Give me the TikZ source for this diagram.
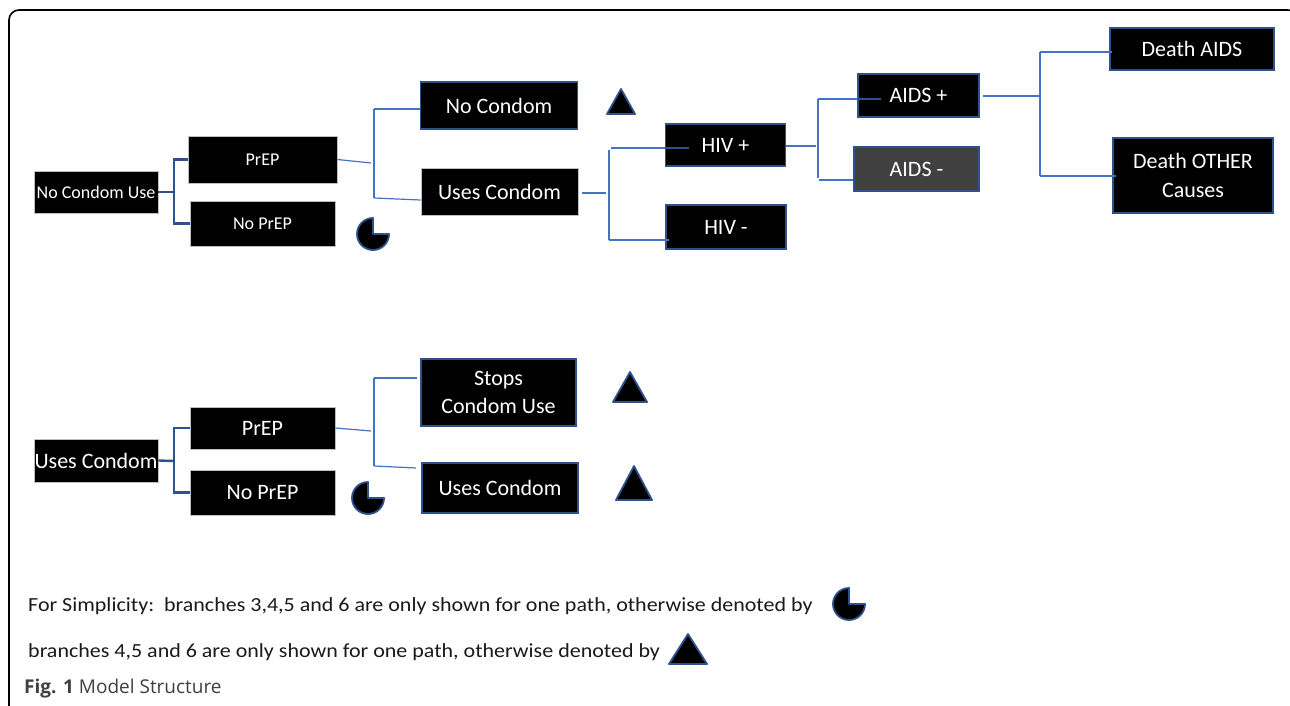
\documentclass[tikz,border=0pt]{standalone}
\usepackage{fontspec}
\setmainfont{Carlito}
\newfontfamily\notefont[FakeStretch=1.1]{Carlito}
\newfontfamily\capfont{Open Sans}
\usetikzlibrary{calc}
\definecolor{dkblue}{HTML}{2F528F}
\definecolor{lnblue}{HTML}{4472C4}
\definecolor{gbord}{HTML}{BFBFBF}
\definecolor{aidsgrey}{HTML}{404040}
\definecolor{txtdark}{HTML}{1A1A1A}
\begin{document}
\begin{tikzpicture}[x=1pt,y=-1pt,
  box/.style={fill=black,text=white,inner sep=0pt,align=center},
  bbox/.style={box,draw=dkblue,line width=1.8pt},
  gbox/.style={box,draw=gbord,line width=0.8pt},
  fs/.style={font=\fontsize{18}{22}\selectfont},
  fl/.style={font=\fontsize{22}{28.5}\selectfont},
  con/.style={draw=lnblue,line width=1.2pt},
  brk/.style={draw=dkblue,line width=2.4pt},
  symb/.style={fill=black,draw=dkblue,line width=1.8pt,line join=round},
  note/.style={anchor=west,inner sep=0pt,text=txtdark,font=\notefont\fontsize{20}{24}\selectfont}]
\clip (0,0) rectangle (1290,706);
\fill[white] (0,0) rectangle (1290,706);
% frame
\draw[black,line width=1.6pt,rounded corners=10pt] (9,760) -- (9,10) -- (1298,10) -- (1298,760);

% ---- top tree ----
\node[gbox,fs,minimum width=124pt,minimum height=42pt] (root1) at (96,192) {No Condom Use};
\node[gbox,fs,minimum width=149pt,minimum height=47pt] (prep1) at (262.5,159.5) {PrEP};
\node[gbox,fs,minimum width=145pt,minimum height=45pt] (noprep1) at (262.5,223.5) {No PrEP};
\node[bbox,fl,minimum width=157pt,minimum height=47pt] (nocondom) at (499,105.5) {No Condom};
\node[gbox,fl,minimum width=157pt,minimum height=47pt] (uses1) at (499.5,191.5) {Uses Condom};
\node[bbox,fl,minimum width=120pt,minimum height=42pt] (hivp) at (725.5,145) {HIV +};
\node[bbox,fl,minimum width=120pt,minimum height=44pt] (hivm) at (726,227) {HIV -};
\node[bbox,fl,minimum width=121pt,minimum height=43pt] (aidsp) at (918.5,95.5) {AIDS +};
\node[bbox,fl,fill=aidsgrey,minimum width=125pt,minimum height=44pt] (aidsm) at (916.5,169) {AIDS -};
\node[bbox,fl,minimum width=164pt,minimum height=42pt] (dA) at (1192,49) {Death AIDS};
\node[bbox,fl,minimum width=160pt,minimum height=75pt] (dO) at (1193,175.5) {Death OTHER\\Causes};

% bracket root1
\coordinate (j1) at (174,192);
\draw[brk] (root1.east) -- (j1);
\draw[brk] (prep1.west) -| (j1) |- (noprep1.west);

% split after PrEP
\coordinate (c1) at (371,163);
\coordinate (s1t) at (374,109);
\coordinate (s1b) at (374,198);
\draw[con] (prep1.east) -- (c1);
\draw[con] (s1t) -- (s1b);
\draw[con] (s1t) -- (s1t -| nocondom.west);
\draw[con] (s1b) -- (uses1.west |- 0,200);

% split after Uses Condom
\coordinate (c2) at (606,193);
\coordinate (s2t) at (609,150);
\coordinate (s2b) at (609,240);
\draw[con] ([xshift=4pt]uses1.east |- c2) -- (c2);
\draw[con] (s2t) -- (s2b);
\draw[con] (611,148) -- (hivp.west |- 0,148);
\draw[draw=dkblue,line width=1.6pt] (hivp.west |- 0,148) -- ++(24,0);
\draw[con] (s2b) -- ([xshift=4pt]hivm.west |- s2b);

% split after HIV+
\coordinate (c3) at (816,146);
\coordinate (s3t) at (818,99);
\coordinate (s3b) at (818,178);
\draw[con] (hivp.east |- c3) -- (c3);
\draw[con] (s3t) -- (s3b);
\draw[con] (s3t) -- (aidsp.west |- s3t);
\draw[draw=dkblue,line width=1.6pt] (aidsp.west |- s3t) -- ++(24,0);
\draw[con] (819,180) -- (aidsm.west |- 0,180);

% split after AIDS+
\coordinate (c4) at (1039,96);
\coordinate (s4t) at (1040,52);
\coordinate (s4b) at (1040,176);
\draw[con] ([xshift=3pt]aidsp.east |- c4) -- (c4);
\draw[con] (s4t) -- (s4b);
\draw[con] (s4t) -- ([xshift=3pt]dA.west |- s4t);
\draw[con] (s4b) -- ([xshift=4pt]dO.west |- s4b);

% markers top
\draw[symb] (607,114) -- (621,89) -- (635,114) -- cycle;
\coordinate (p1) at (373,234);
\draw[symb] (p1) -- ++(0,-16) arc[start angle=-90,end angle=-360,radius=16] -- cycle;

% ---- bottom tree ----
\node[gbox,fl,minimum width=124pt,minimum height=43pt] (root2) at (96,460.5) {Uses Condom};
\node[gbox,fl,minimum width=145pt,minimum height=42pt] (prep2) at (262.5,428) {PrEP};
\node[gbox,fl,minimum width=145pt,minimum height=45pt] (noprep2) at (262.5,492.5) {No PrEP};
\node[bbox,fl,minimum width=155pt,minimum height=67pt] (stops) at (498.5,392.5) {Stops\\Condom Use};
\node[bbox,fl,minimum width=156pt,minimum height=50pt] (uses2) at (500,488) {Uses Condom};

\coordinate (j2) at (174,461);
\draw[brk] (root2.east) -- (j2);
\draw[brk] (prep2.west) -| (j2) |- (noprep2.west);

\coordinate (c5) at (371,431);
\coordinate (s5t) at (374,378);
\coordinate (s5b) at (374,466);
\draw[con] (prep2.east) -- (c5);
\draw[con] (s5t) -- (s5b);
\draw[con] (s5t) -- ([xshift=-3pt]stops.west |- s5t);
\draw[con] (s5b) -- ([xshift=-5pt]uses2.west |- 0,468);

\draw[symb] (613,402) -- (630,372) -- (647,402) -- cycle;
\draw[symb] (616,500) -- (634,466) -- (652,500) -- cycle;
\coordinate (p2) at (368,498);
\draw[symb] (p2) -- ++(0,-16) arc[start angle=-90,end angle=-360,radius=16] -- cycle;

% ---- notes ----
\node[note] (n1) at (28,606) {For Simplicity:\ \ branches 3,4,5 and 6 are only shown for one path, otherwise denoted by};
\coordinate (p3) at (849,604);
\draw[symb] (p3) -- ++(0,-16) arc[start angle=-90,end angle=-360,radius=16] -- cycle;
\node[note] (n2) at (28,652) {branches 4,5 and 6 are only shown for one path, otherwise denoted by};
\draw[symb] (669,664) -- (688,634) -- (707,664) -- cycle;
\node[note,text=black!75,font=\capfont\fontsize{19}{22}\selectfont] (cap) at (24,689) {\textbf{Fig. 1} Model Structure};
\end{tikzpicture}
\end{document}
